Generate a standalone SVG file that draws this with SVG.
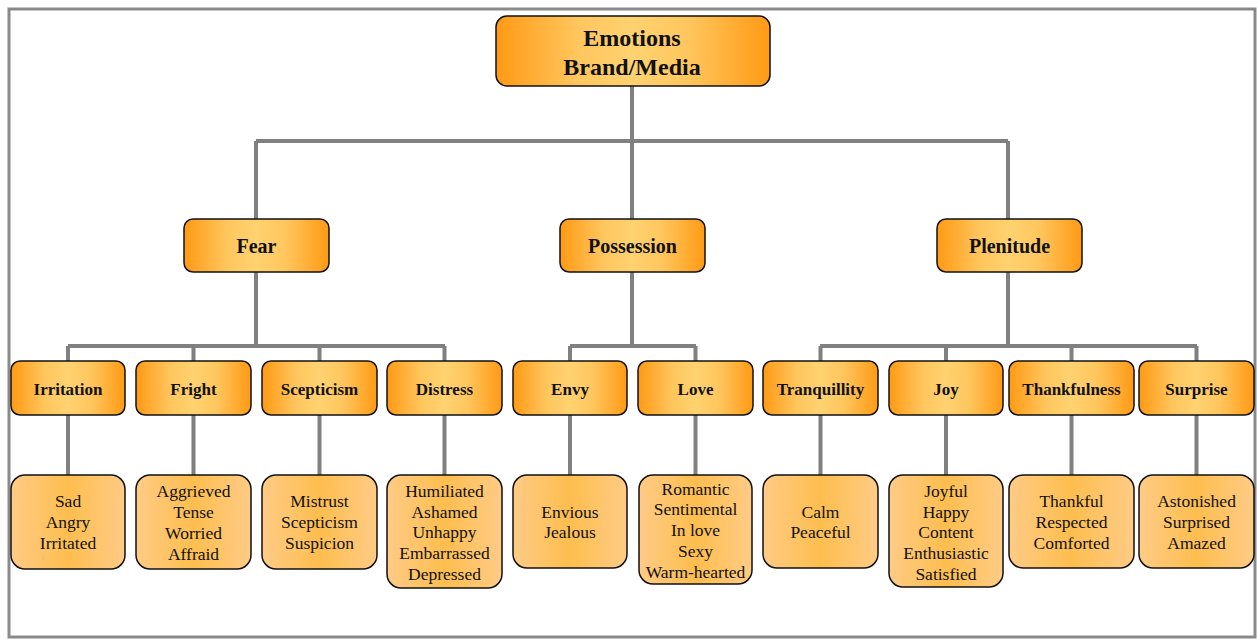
<svg xmlns="http://www.w3.org/2000/svg" width="1257" height="639" viewBox="0 0 1257 639">
  <defs>
    <linearGradient id="gHead" x1="0" y1="0" x2="1" y2="0">
      <stop offset="0" stop-color="#FF9A14"/>
      <stop offset="0.3" stop-color="#FFC65E"/>
      <stop offset="0.5" stop-color="#FFD270"/>
      <stop offset="0.7" stop-color="#FFC65E"/>
      <stop offset="1" stop-color="#FF9A14"/>
    </linearGradient>
    <linearGradient id="gLeaf" x1="0" y1="0" x2="1" y2="0">
      <stop offset="0" stop-color="#FFCB86"/>
      <stop offset="0.5" stop-color="#FDBE4E"/>
      <stop offset="1" stop-color="#FFCB86"/>
    </linearGradient>
    <style>
      .frame { fill: none; stroke: #8a8a8a; stroke-width: 3; }
      .conn { fill: none; stroke: #808080; stroke-width: 4; }
      .head { fill: url(#gHead); stroke: #111; stroke-width: 1.5; }
      .leaf { fill: url(#gLeaf); stroke: #111; stroke-width: 1.5; }
      text { font-family: "Liberation Serif", "Times New Roman", serif; fill: #111; text-anchor: middle; }
      .t1 { font-size: 24px; font-weight: bold; }
      .t2 { font-size: 20px; font-weight: bold; }
      .t3 { font-size: 17px; font-weight: bold; }
      .t4 { font-size: 17.5px; }
    </style>
  </defs>

  <rect x="0" y="0" width="1257" height="639" fill="#fff"/>
  <rect class="frame" x="9" y="9" width="1246" height="628"/>

  <!-- connectors -->
  <g id="connectors">
    <path class="conn" d="M632 86V141M256 141H1008M256 141V219M632 141V219M1008 141V219"/>
    <path class="conn" d="M256 272V346M68 346H445M68 346V361M193.5 346V361M319.5 346V361M444.5 346V361"/>
    <path class="conn" d="M632 272V346M570 346H696M570 346V361M695.5 346V361"/>
    <path class="conn" d="M1008 272V346M820 346H1197M820.5 346V361M946 346V361M1071.5 346V361M1196.5 346V361"/>
    <path class="conn" d="M68 415V475M193.5 415V475M319.5 415V475M444.5 415V475M570 415V475M695.5 415V475M820.5 415V475M946 415V475M1071.5 415V475M1196.5 415V475"/>
  </g>

  <!-- root -->
  <g id="root">
    <rect class="head" x="496" y="16" width="274" height="70" rx="11"/>
    <text class="t1" x="632" y="46">Emotions</text>
    <text class="t1" x="632" y="75">Brand/Media</text>
  </g>

  <!-- second level -->
  <g id="fear">
    <rect class="head" x="184" y="219" width="145" height="53" rx="9"/>
    <text class="t2" x="256.5" y="253">Fear</text>
  </g>
  <g id="possession">
    <rect class="head" x="560" y="219" width="145" height="53" rx="9"/>
    <text class="t2" x="632.5" y="253">Possession</text>
  </g>
  <g id="plenitude">
    <rect class="head" x="937" y="219" width="145" height="53" rx="9"/>
    <text class="t2" x="1009.5" y="253">Plenitude</text>
  </g>

  <!-- third level -->
  <g id="irritation">
    <rect class="head" x="11" y="361" width="114" height="54" rx="9"/>
    <text class="t3" x="68" y="394.5">Irritation</text>
  </g>
  <g id="fright">
    <rect class="head" x="136" y="361" width="115" height="54" rx="9"/>
    <text class="t3" x="193.5" y="394.5">Fright</text>
  </g>
  <g id="scepticism">
    <rect class="head" x="262" y="361" width="115" height="54" rx="9"/>
    <text class="t3" x="319.5" y="394.5">Scepticism</text>
  </g>
  <g id="distress">
    <rect class="head" x="387" y="361" width="115" height="54" rx="9"/>
    <text class="t3" x="444.5" y="394.5">Distress</text>
  </g>
  <g id="envy">
    <rect class="head" x="513" y="361" width="114" height="54" rx="9"/>
    <text class="t3" x="570" y="394.5">Envy</text>
  </g>
  <g id="love">
    <rect class="head" x="638" y="361" width="115" height="54" rx="9"/>
    <text class="t3" x="695.5" y="394.5">Love</text>
  </g>
  <g id="tranquillity">
    <rect class="head" x="763" y="361" width="115" height="54" rx="9"/>
    <text class="t3" x="820.5" y="394.5">Tranquillity</text>
  </g>
  <g id="joy">
    <rect class="head" x="889" y="361" width="114" height="54" rx="9"/>
    <text class="t3" x="946" y="394.5">Joy</text>
  </g>
  <g id="thankfulness">
    <rect class="head" x="1009" y="361" width="125" height="54" rx="9"/>
    <text class="t3" x="1071.5" y="394.5">Thankfulness</text>
  </g>
  <g id="surprise">
    <rect class="head" x="1139" y="361" width="115" height="54" rx="9"/>
    <text class="t3" x="1196.5" y="394.5">Surprise</text>
  </g>

  <!-- leaves -->
  <g id="irritation-words">
    <rect class="leaf" x="11" y="475" width="114" height="94" rx="14"/>
    <text class="t4" x="68" y="507">Sad</text>
    <text class="t4" x="68" y="528">Angry</text>
    <text class="t4" x="68" y="549">Irritated</text>
  </g>
  <g id="fright-words">
    <rect class="leaf" x="136" y="475" width="115" height="94" rx="14"/>
    <text class="t4" x="193.5" y="497">Aggrieved</text>
    <text class="t4" x="193.5" y="518">Tense</text>
    <text class="t4" x="193.5" y="539">Worried</text>
    <text class="t4" x="193.5" y="560">Affraid</text>
  </g>
  <g id="scepticism-words">
    <rect class="leaf" x="262" y="475" width="115" height="94" rx="14"/>
    <text class="t4" x="319.5" y="507">Mistrust</text>
    <text class="t4" x="319.5" y="528">Scepticism</text>
    <text class="t4" x="319.5" y="549">Suspicion</text>
  </g>
  <g id="distress-words">
    <rect class="leaf" x="387" y="475" width="115" height="113" rx="14"/>
    <text class="t4" x="444.5" y="497">Humiliated</text>
    <text class="t4" x="444.5" y="518">Ashamed</text>
    <text class="t4" x="444.5" y="538">Unhappy</text>
    <text class="t4" x="444.5" y="559">Embarrassed</text>
    <text class="t4" x="444.5" y="580">Depressed</text>
  </g>
  <g id="envy-words">
    <rect class="leaf" x="513" y="475" width="114" height="93" rx="14"/>
    <text class="t4" x="570" y="518">Envious</text>
    <text class="t4" x="570" y="538">Jealous</text>
  </g>
  <g id="love-words">
    <rect class="leaf" x="639" y="475" width="113" height="109" rx="14"/>
    <text class="t4" x="695.5" y="495">Romantic</text>
    <text class="t4" x="695.5" y="515">Sentimental</text>
    <text class="t4" x="695.5" y="536">In love</text>
    <text class="t4" x="695.5" y="557">Sexy</text>
    <text class="t4" x="695.5" y="578">Warm-hearted</text>
  </g>
  <g id="tranquillity-words">
    <rect class="leaf" x="763" y="475" width="115" height="93" rx="14"/>
    <text class="t4" x="820.5" y="518">Calm</text>
    <text class="t4" x="820.5" y="538">Peaceful</text>
  </g>
  <g id="joy-words">
    <rect class="leaf" x="889" y="475" width="114" height="112" rx="14"/>
    <text class="t4" x="946" y="497">Joyful</text>
    <text class="t4" x="946" y="518">Happy</text>
    <text class="t4" x="946" y="538">Content</text>
    <text class="t4" x="946" y="559">Enthusiastic</text>
    <text class="t4" x="946" y="580">Satisfied</text>
  </g>
  <g id="thankfulness-words">
    <rect class="leaf" x="1009" y="475" width="125" height="93" rx="14"/>
    <text class="t4" x="1071.5" y="507">Thankful</text>
    <text class="t4" x="1071.5" y="528">Respected</text>
    <text class="t4" x="1071.5" y="549">Comforted</text>
  </g>
  <g id="surprise-words">
    <rect class="leaf" x="1139" y="475" width="115" height="93" rx="14"/>
    <text class="t4" x="1196.5" y="507">Astonished</text>
    <text class="t4" x="1196.5" y="528">Surprised</text>
    <text class="t4" x="1196.5" y="549">Amazed</text>
  </g>
</svg>
